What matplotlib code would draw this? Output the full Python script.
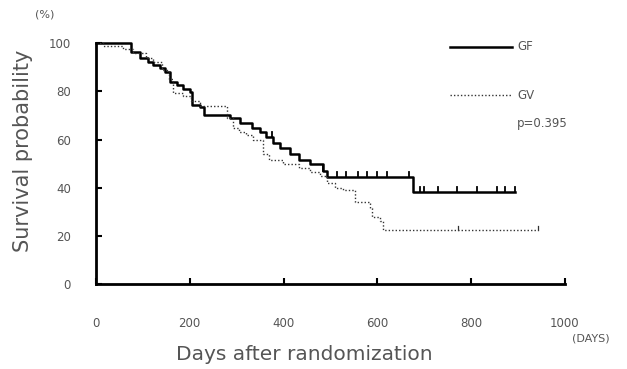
import matplotlib
matplotlib.use('Agg')
import matplotlib.pyplot as plt

# GF group (solid line) - step times (days) and survival (%)
gf_days = [0, 74, 95, 110, 121, 136, 147, 157, 172, 185, 200, 205, 221, 231, 285,
           307, 332, 349, 363, 378, 392, 413, 434, 456, 484, 492, 676, 893]
gf_surv = [100, 96.3, 94, 92, 91, 89.6, 88, 84, 82.6, 81, 79.7, 74.5, 73.4, 70, 69,
           67, 65, 63, 61, 58.5, 56.5, 54, 51.5, 50, 47, 44.5, 38.3, 38.3]
gf_cens_days = [375, 484, 514, 533, 559, 578, 599, 620, 667, 690, 700, 730, 770, 813, 856, 873, 893]

# GV group (dotted line)
gv_days = [0, 15, 57, 80, 107, 122, 140, 155, 165, 185, 203, 221, 279, 292, 306, 321,
           335, 356, 370, 398, 434, 456, 477, 492, 509, 527, 553, 585, 589, 606, 612, 942]
gv_surv = [100, 99, 97.5, 96, 94, 92, 89, 85, 79.5, 78, 76, 74, 69, 65, 63, 62,
           60, 54, 51.5, 50, 48, 46.5, 45, 42, 40, 39, 34, 31.5, 28, 26, 22.4, 22.4]
gv_cens_days = [773, 942]

xticks = [0, 200, 400, 600, 800, 1000]
yticks = [0, 20, 40, 60, 80, 100]

txt = '#555555'

fig = plt.figure(figsize=(6.27, 3.69), dpi=100)
ax = fig.add_axes([0.153, 0.230, 0.748, 0.653])


def surv_at(days, surv, t):
    v = surv[0]
    for d, s in zip(days, surv):
        if d <= t:
            v = s
    return v


ax.step(gf_days, gf_surv, where='post', color='black', lw=1.8, clip_on=False)
ax.step(gv_days, gv_surv, where='post', color='#333333', lw=1.0,
        linestyle=(0, (1, 1.5)), clip_on=False)

for t in gf_cens_days:
    v = surv_at(gf_days, gf_surv, t)
    ax.plot([t, t], [v, v + 2.2], color='black', lw=1.3, clip_on=False)
for t in gv_cens_days:
    v = surv_at(gv_days, gv_surv, t)
    ax.plot([t, t], [v, v + 1.8], color='#333333', lw=0.9, clip_on=False)

ax.set_xlim(0, 1000)
ax.set_ylim(0, 100)
ax.spines['top'].set_visible(False)
ax.spines['right'].set_visible(False)
ax.spines['left'].set_linewidth(2)
ax.spines['bottom'].set_linewidth(2)
ax.set_xticks(xticks)
ax.set_yticks(yticks)
ax.tick_params(direction='in', length=4, width=1.5, colors='black',
               labelcolor=txt, labelsize=8.5)
ax.tick_params(axis='y', pad=18)
ax.tick_params(axis='x', pad=24)

fig.text(0.036, 0.59, 'Survival probability', fontsize=15, color=txt,
         rotation=90, ha='center', va='center')
fig.text(0.486, 0.038, 'Days after randomization', fontsize=14.5, color=txt,
         ha='center', va='center')
fig.text(0.072, 0.962, '(%)', fontsize=8, color=txt, ha='center', va='center')
fig.text(0.943, 0.082, '(DAYS)', fontsize=8, color=txt, ha='center', va='center')

# legend drawn by hand in axes coordinates
ax.plot([0.755, 0.887], [0.985, 0.985], transform=ax.transAxes, color='black', lw=1.8)
ax.text(0.898, 0.985, 'GF', transform=ax.transAxes, fontsize=8.5, color=txt, va='center')
ax.plot([0.755, 0.887], [0.784, 0.784], transform=ax.transAxes, color='#333333', lw=1.0,
        linestyle=(0, (1, 1.5)))
ax.text(0.898, 0.784, 'GV', transform=ax.transAxes, fontsize=8.5, color=txt, va='center')
ax.text(0.898, 0.668, 'p=0.395', transform=ax.transAxes, fontsize=8.5, color=txt, va='center')

fig.savefig('out.png', dpi=100)
